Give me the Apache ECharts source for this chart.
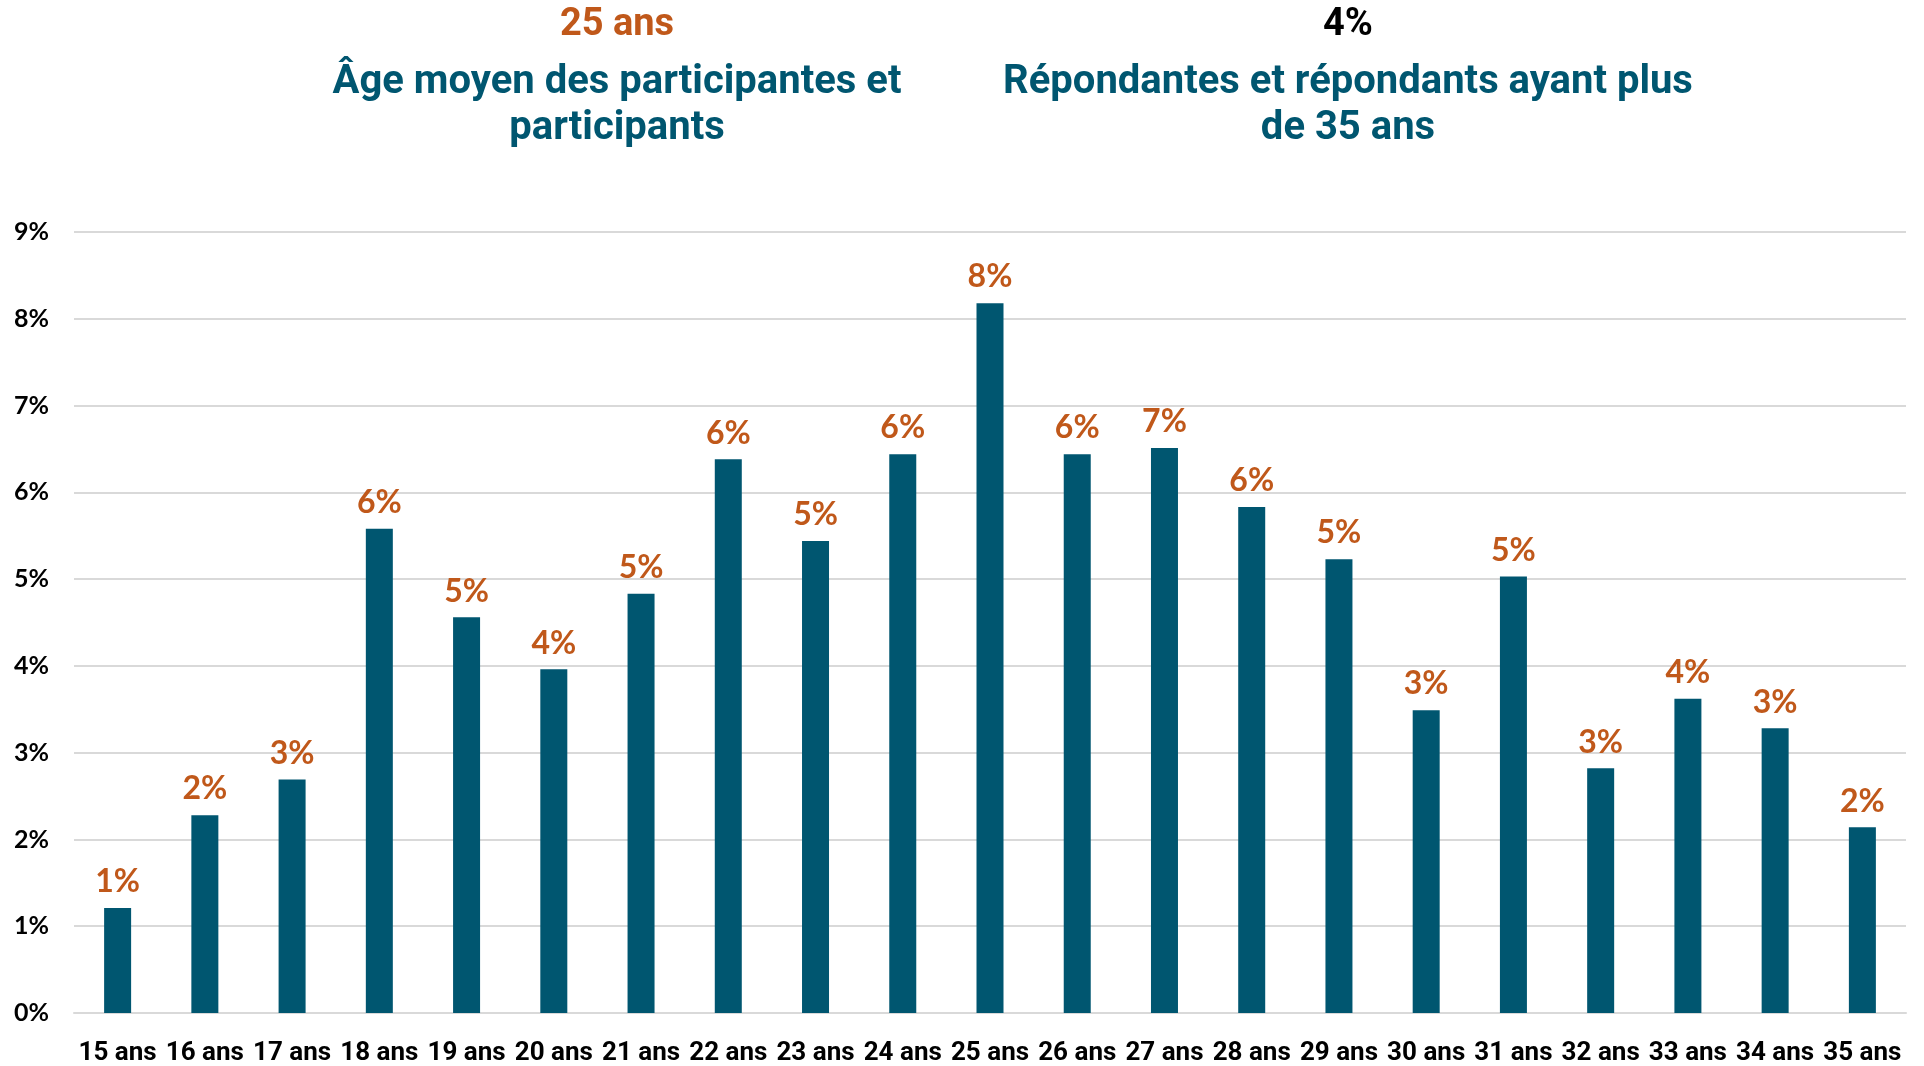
<!DOCTYPE html>
<html><head><meta charset="utf-8">
<script src="https://cdn.jsdelivr.net/npm/echarts@6/dist/echarts.min.js"></script>
<style>html,body{margin:0;padding:0;background:#fff}#c{width:1924px;height:1066px}</style>
</head><body><div id="c"></div>
<script>
const categories = ["15 ans","16 ans","17 ans","18 ans","19 ans","20 ans","21 ans","22 ans","23 ans","24 ans","25 ans","26 ans","27 ans","28 ans","29 ans","30 ans","31 ans","32 ans","33 ans","34 ans","35 ans"];
const shares = [1.21,2.28,2.69,5.58,4.56,3.96,4.83,6.38,5.44,6.44,8.18,6.44,6.51,5.83,5.23,3.49,5.03,2.82,3.62,3.28,2.14];
const yTicks = [0,1,2,3,4,5,6,7,8,9];
const kpiLeftValue = "25 ans";
const kpiLeftText = "Âge moyen des participantes et\nparticipants";
const kpiRightValue = "4%";
const kpiRightText = "Répondantes et répondants ayant plus\nde 35 ans";

const BLUE = '#005670', ORANGE = '#C0581A';
const narrow = 'Roboto, sans-serif';
const chart = echarts.init(document.getElementById('c'));
chart.setOption({
  animation: false,
  graphic: [
    {type:'text', style:{x:617, y:25, text:kpiLeftValue, fill:ORANGE, font:'bold 38px ' + narrow, textAlign:'center', textVerticalAlign:'middle'}},
    {type:'text', style:{x:617, y:106, text:kpiLeftText, fill:BLUE, font:'bold 40px ' + narrow, textAlign:'center', textVerticalAlign:'middle', lineHeight:46}},
    {type:'text', style:{x:1348, y:25, text:kpiRightValue, fill:'#000', font:'bold 38px ' + narrow, textAlign:'center', textVerticalAlign:'middle'}},
    {type:'text', style:{x:1348, y:106, text:kpiRightText, fill:BLUE, font:'bold 40px ' + narrow, textAlign:'center', textVerticalAlign:'middle', lineHeight:46}}
  ],
  grid: {left:74, right:18, top:232, bottom:50, containLabel:false},
  xAxis: {
    type:'category', data:categories,
    axisTick:{show:false},
    axisLine:{lineStyle:{color:'#d9d9d9', width:2}},
    axisLabel:{color:'#000', fontFamily:narrow, fontWeight:'bold', fontSize:26, margin:27, interval:0}
  },
  yAxis: {
    type:'value', min:yTicks[0], max:yTicks[yTicks.length-1], interval:1,
    axisLine:{show:false}, axisTick:{show:false},
    splitLine:{lineStyle:{color:'#d9d9d9', width:2}},
    axisLabel:{color:'#000', fontFamily:'Lato, sans-serif', fontWeight:'bold', fontSize:25, margin:25, formatter: v => v + '%'}
  },
  series: [{
    type:'bar', data:shares, barWidth:27,
    itemStyle:{color:BLUE},
    label:{show:true, position:'top', distance:10, color:ORANGE, fontFamily:'Lato, sans-serif', fontWeight:'bold', fontSize:32,
      formatter: p => Math.round(p.value) + '%'}
  }]
});
</script></body></html>
